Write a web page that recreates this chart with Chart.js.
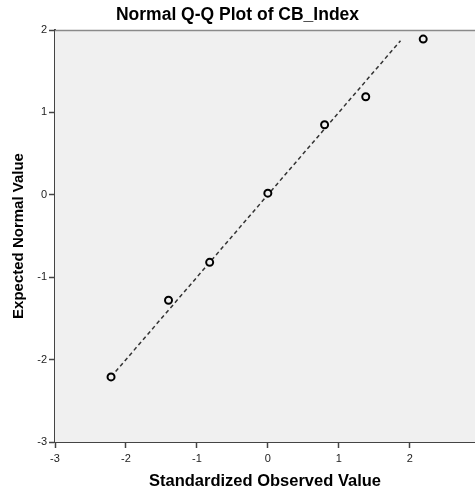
<!DOCTYPE html>
<html>
<head>
<meta charset="utf-8">
<script src="https://cdn.jsdelivr.net/npm/chart.js@4"></script>
<style>
html,body{margin:0;padding:0;background:#fff;}
#wrap{width:475px;height:492px;}
</style>
</head>
<body>
<div id="wrap"><canvas id="c" width="475" height="492"></canvas></div>
<script>
// Data
const observedValues = [-2.21, -1.40, -0.82, 0.00, 0.80, 1.38, 2.19];   // Standardized Observed Value (x)
const expectedValues = [-2.21, -1.28, -0.82, 0.02, 0.85, 1.19, 1.89];   // Expected Normal Value (y)
const refLineEnds = [-2.21, 1.87];                                       // y = x reference line span
const xTickValues = [-3, -2, -1, 0, 1, 2];
const yTickValues = [-3, -2, -1, 0, 1, 2];
const chartTitle = "Normal Q-Q Plot of CB_Index";
const xTitle = "Standardized Observed Value";
const yTitle = "Expected Normal Value";

const FONT = "Arial, 'Liberation Sans', sans-serif";

const plotBg = {
  id: 'plotBg',
  beforeDatasetsDraw(chart) {
    const {ctx, chartArea: a} = chart;
    ctx.save();
    ctx.fillStyle = '#f0f0f0';
    ctx.fillRect(a.left, a.top, a.right - a.left, a.bottom - a.top);
    ctx.restore();
  },
  afterDraw(chart) {
    const {ctx, chartArea: a} = chart;
    ctx.save();
    ctx.strokeStyle = '#8a8a8a';
    ctx.lineWidth = 1.5;
    ctx.beginPath();
    ctx.moveTo(a.left, a.top + 0.5);
    ctx.lineTo(a.right, a.top + 0.5);
    ctx.stroke();
    ctx.restore();
  }
};

const points = observedValues.map((x, i) => ({x: x, y: expectedValues[i]}));
const linePts = refLineEnds.map(v => ({x: v, y: v}));

new Chart(document.getElementById('c'), {
  type: 'scatter',
  data: {
    datasets: [
      {
        label: 'points',
        data: points,
        showLine: false,
        pointRadius: 3.5,
        pointHoverRadius: 3.5,
        pointBorderWidth: 2,
        pointBorderColor: '#000',
        pointBackgroundColor: '#f0f0f0',
        order: 1
      },
      {
        label: 'ref',
        data: linePts,
        showLine: true,
        pointRadius: 0,
        borderColor: '#333',
        borderWidth: 1.5,
        borderDash: [4, 3],
        fill: false,
        order: 2
      }
    ]
  },
  options: {
    responsive: false,
    animation: false,
    devicePixelRatio: 1,
    layout: {autoPadding: false, padding: {left: 0, right: 0, top: 0, bottom: 0}},
    plugins: {
      legend: {display: false},
      tooltip: {enabled: false},
      title: {
        display: true,
        text: chartTitle,
        color: '#000',
        font: {family: FONT, size: 17.5, weight: 'bold', lineHeight: 1.2},
        padding: {top: 4.5, bottom: 4.5}
      }
    },
    scales: {
      x: {
        type: 'linear',
        min: -3,
        max: 2.92,
        afterBuildTicks(axis) { axis.ticks = xTickValues.map(v => ({value: v})); },
        afterFit(scale) { scale.height = 50; scale.paddingLeft = 0; scale.paddingRight = 0; },
        grid: {drawOnChartArea: false, drawTicks: true, tickLength: 6, tickWidth: 1.5, tickColor: '#444'},
        border: {display: true, color: '#444', width: 2},
        ticks: {color: '#222', font: {family: FONT, size: 11}, padding: 4, maxRotation: 0, autoSkip: false},
        title: {display: true, text: xTitle, color: '#000', font: {family: FONT, size: 16.5, weight: 'bold', lineHeight: 1.2}, padding: {top: 0, bottom: 1}}
      },
      y: {
        type: 'linear',
        min: -3,
        max: 2,
        afterBuildTicks(axis) { axis.ticks = yTickValues.map(v => ({value: v})); },
        afterFit(scale) { scale.width = 55; scale.paddingTop = 0; scale.paddingBottom = 0; },
        grid: {drawOnChartArea: false, drawTicks: true, tickLength: 6, tickWidth: 1.5, tickColor: '#444'},
        border: {display: true, color: '#444', width: 2},
        ticks: {color: '#222', font: {family: FONT, size: 11}, padding: 2, autoSkip: false},
        title: {display: true, text: yTitle, color: '#000', font: {family: FONT, size: 15, weight: 'bold', lineHeight: 1.2}, padding: {top: 9.5, bottom: 0}}
      }
    }
  },
  plugins: [plotBg]
});
</script>
</body>
</html>
